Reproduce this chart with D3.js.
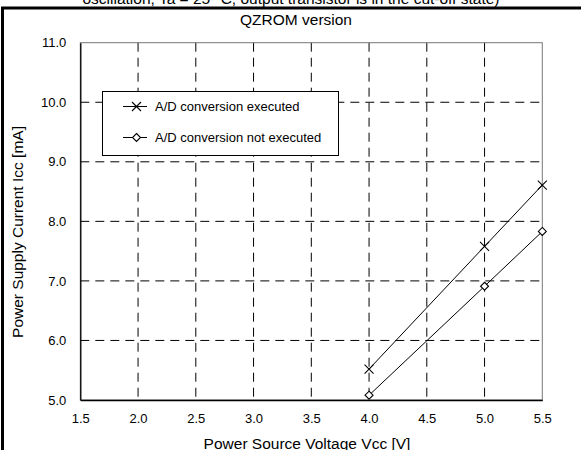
<!DOCTYPE html>
<html>
<head>
<meta charset="utf-8">
<script src="https://cdn.jsdelivr.net/npm/d3@7"></script>
<style>
  html, body { margin: 0; padding: 0; background: #fff; }
  svg { display: block; font-family: "Liberation Sans", Arial, sans-serif; }
</style>
</head>
<body>
<svg id="chart" width="581" height="450"></svg>
<script>
// Supply voltage (V) and supply current (mA)
const voltages = [4.0, 5.0, 5.5];
const iccExecuted = [5.52, 7.58, 8.61];
const iccNotExecuted = [5.08, 6.91, 7.83];
const seriesNames = ["A/D conversion executed", "A/D conversion not executed"];
const xTicks = [1.5, 2.0, 2.5, 3.0, 3.5, 4.0, 4.5, 5.0, 5.5];
const yTicks = [5.0, 6.0, 7.0, 8.0, 9.0, 10.0, 11.0];
const titleLines = [
  "oscillation, Ta = 25 \u00B0C, output transistor is in the cut-off state)",
  "QZROM version"
];
const xLabel = "Power Source Voltage Vcc [V]";
const yLabel = "Power Supply Current Icc [mA]";

const svg = d3.select("#chart");
const plot = { left: 80.3, right: 542.3, top: 42.7, bottom: 400 };

const x = d3.scaleLinear().domain([1.5, 5.5]).range([plot.left, plot.right]);
const y = d3.scaleLinear().domain([5.0, 11.0]).range([plot.bottom, plot.top]);

// Outer frame (extends past the visible page)
svg.append("rect")
  .attr("x", 2.5).attr("y", 8)
  .attr("width", 700).attr("height", 600)
  .attr("fill", "none").attr("stroke", "#000").attr("stroke-width", 3);

// Titles
svg.append("text")
  .attr("x", 291).attr("y", 4)
  .attr("text-anchor", "middle").attr("font-size", 15.5)
  .text(titleLines[0]);
svg.append("text")
  .attr("x", 296).attr("y", 25)
  .attr("text-anchor", "middle").attr("font-size", 15.5)
  .text(titleLines[1]);

// Dashed grid
const grid = svg.append("g").attr("stroke", "#000").attr("stroke-width", 1)
  .attr("stroke-dasharray", "9,6").attr("fill", "none");
grid.selectAll("line.v").data(xTicks.slice(1, -1)).join("line")
  .attr("class", "v")
  .attr("x1", d => x(d)).attr("x2", d => x(d))
  .attr("y1", plot.top).attr("y2", plot.bottom);
grid.selectAll("line.h").data(yTicks.slice(1, -1)).join("line")
  .attr("class", "h")
  .attr("x1", plot.left).attr("x2", plot.right)
  .attr("y1", d => y(d)).attr("y2", d => y(d));

// Plot frame
svg.append("rect")
  .attr("x", plot.left).attr("y", plot.top)
  .attr("width", plot.right - plot.left).attr("height", plot.bottom - plot.top)
  .attr("fill", "none").attr("stroke", "#777").attr("stroke-width", 1);

// Axes (left and bottom drawn solid)
const xAxis = d3.axisBottom(x).tickValues(xTicks).tickFormat(d3.format(".1f"))
  .tickSize(0).tickPadding(14);
const yAxis = d3.axisLeft(y).tickValues(yTicks).tickFormat(d3.format(".1f"))
  .tickSize(0).tickPadding(14);

const gx = svg.append("g").attr("transform", `translate(0,${plot.bottom})`).call(xAxis);
const gy = svg.append("g").attr("transform", `translate(${plot.left},0)`).call(yAxis);
[gx, gy].forEach(g => {
  g.select(".domain").attr("stroke", "#000").attr("stroke-width", 1.3);
  g.selectAll("text").attr("font-size", 13).attr("fill", "#000")
    .attr("font-family", "'Liberation Sans', Arial, sans-serif");
});

// Axis titles
svg.append("text")
  .attr("x", 307).attr("y", 449)
  .attr("text-anchor", "middle").attr("font-size", 15.5)
  .text(xLabel);
svg.append("text")
  .attr("transform", `translate(23,${232}) rotate(-90)`)
  .attr("text-anchor", "middle").attr("font-size", 15.5)
  .text(yLabel);

// Marker shapes
function crossPath(s) {
  return `M${-s},${-s}L${s},${s}M${-s},${s}L${s},${-s}`;
}
function diamondPath(s) {
  return `M0,${-s}L${s},0L0,${s}L${-s},0Z`;
}

const series = [
  { name: seriesNames[0], values: iccExecuted, marker: crossPath(4.5), fill: "none" },
  { name: seriesNames[1], values: iccNotExecuted, marker: diamondPath(4), fill: "#fff" }
];

const line = d3.line().x(d => x(d[0])).y(d => y(d[1]));

series.forEach(s => {
  const pts = voltages.map((v, i) => [v, s.values[i]]);
  svg.append("path")
    .attr("d", line(pts))
    .attr("fill", "none").attr("stroke", "#000").attr("stroke-width", 1);
  svg.append("g").selectAll("path").data(pts).join("path")
    .attr("transform", d => `translate(${x(d[0])},${y(d[1])})`)
    .attr("d", s.marker)
    .attr("fill", s.fill).attr("stroke", "#000").attr("stroke-width", 1.1);
});

// Legend
const legend = svg.append("g");
legend.append("rect")
  .attr("x", 102.5).attr("y", 91.5).attr("width", 236).attr("height", 64)
  .attr("fill", "#fff").attr("stroke", "#000").attr("stroke-width", 1);
const entryY = [106.5, 137.5];
series.forEach((s, i) => {
  const g = legend.append("g").attr("transform", `translate(0,${entryY[i]})`);
  g.append("line").attr("x1", 123).attr("x2", 147).attr("y1", 0).attr("y2", 0)
    .attr("stroke", "#000").attr("stroke-width", 1);
  g.append("path").attr("transform", "translate(136.5,0)").attr("d", s.marker)
    .attr("fill", s.fill).attr("stroke", "#000").attr("stroke-width", 1.1);
  g.append("text").attr("x", 155).attr("y", 0).attr("dy", "0.35em")
    .attr("font-size", 13).text(s.name);
});
</script>
</body>
</html>
